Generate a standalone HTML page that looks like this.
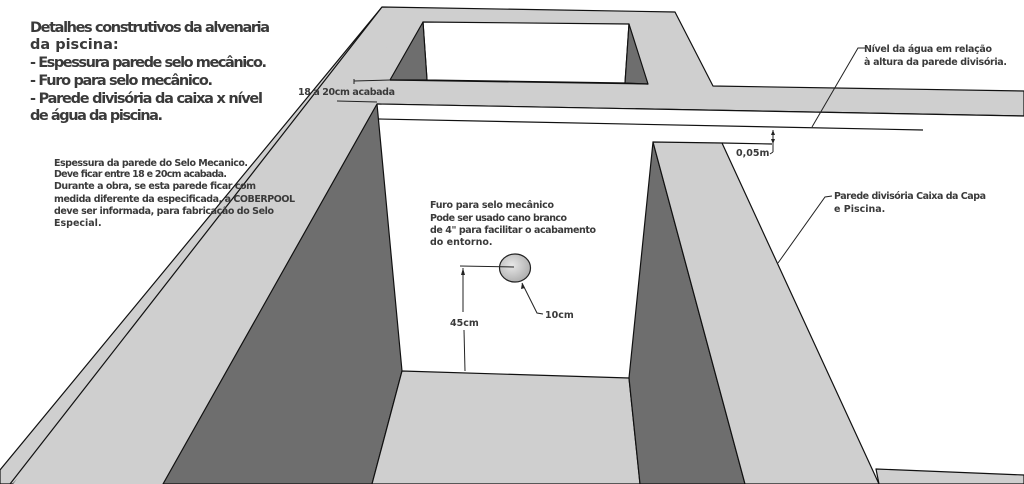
<!DOCTYPE html>
<html><head><meta charset="utf-8"><style>
html,body{margin:0;padding:0;background:#fff;}
svg{display:block;}
text{font-family:"DejaVu Sans","Liberation Sans",sans-serif;font-weight:bold;fill:#3a3a3a;}
</style></head><body>
<svg width="1024" height="484" viewBox="0 0 1024 484" xmlns="http://www.w3.org/2000/svg">
<defs>
<radialGradient id="g" cx="0.4" cy="0.4" r="0.7"><stop offset="0" stop-color="#e8e8e8"/><stop offset="1" stop-color="#a8a8a8"/></radialGradient>
</defs>
<g stroke="#111" stroke-width="1.2" stroke-linejoin="round">
<!-- top frame light -->
<polygon points="382,7 675,12 713,86 1024,91 1024,116 377,104 13,484 0,484 0,470" fill="#cfcfcf"/>
<polygon points="382,7 13,484 163,484 377,104 390,80" fill="#cfcfcf" stroke="none"/>
<line x1="382" y1="7" x2="10" y2="484"/>
<!-- hole -->
<polygon points="423,22 629,24 625,83 427,80" fill="#fff"/>
<polygon points="423,22 427,80 390,80" fill="#6e6e6e"/>
<polygon points="629,24 648,84 625,83" fill="#6e6e6e"/>
<line x1="390" y1="80" x2="648" y2="84"/>
<!-- far wall white -->
<polygon points="377,104 1024,116 1024,484 402,371" fill="#fff" stroke="none"/>
<line x1="377" y1="104" x2="1024" y2="116"/>
<line x1="378" y1="119" x2="923" y2="130"/>
<!-- left dark face -->
<polygon points="377,104 402,371 372,484 163,484" fill="#6e6e6e"/>
<!-- floor -->
<polygon points="402,371 629,378 640,484 372,484" fill="#cfcfcf"/>
<!-- right floor -->
<polygon points="876,469 1024,475 1024,484 879,484" fill="#cfcfcf"/>
<!-- divider -->
<polygon points="653,142 629,378 640,484 745,484" fill="#6e6e6e"/>
<polygon points="653,142 722,143 879,484 745,484" fill="#cfcfcf"/>
<line x1="722" y1="143" x2="772" y2="144"/>
</g>
<!-- hole circle -->
<ellipse cx="515" cy="268" rx="15.5" ry="14" fill="url(#g)" stroke="#222" stroke-width="1.2"/>
<g stroke="#222" stroke-width="1" fill="none">
<line x1="460" y1="266" x2="514" y2="267"/>
<line x1="463" y1="268" x2="463" y2="312"/>
<line x1="464" y1="330" x2="465" y2="371"/>
<polyline points="522,283 537,313 543,314"/>
<line x1="354" y1="81" x2="390" y2="80"/>
<line x1="354" y1="79" x2="354" y2="84"/>
<line x1="337" y1="101" x2="377" y2="102"/>
<line x1="773" y1="130" x2="773" y2="152"/>
<polyline points="773,152 770,154"/>
<polyline points="866,48 858,48 812,127"/>
<polyline points="832,196 825,197 778,263"/>
</g>
<g fill="#222">
<polygon points="463,268 461,275 465,275"/>
<polygon points="773,130 771,135 775,135"/>
<polygon points="773,144 771,139 775,139"/>
<polygon points="522,283 521,289 525,288"/>
</g>
<g font-size="14.5" style="fill:#404040">
<text x="30" y="32" textLength="240">Detalhes construtivos da alvenaria</text>
<text x="30" y="49">da piscina:</text>
<text x="30" y="67" textLength="237">- Espessura parede selo mecânico.</text>
<text x="30" y="85" textLength="183">- Furo para selo mecânico.</text>
<text x="30" y="103" textLength="233">- Parede divisória da caixa x nível</text>
<text x="30" y="120" textLength="133">de água da piscina.</text>
</g>
<g font-size="9.5">
<text x="54" y="166" textLength="194">Espessura da parede do Selo Mecanico.</text>
<text x="54" y="177" textLength="173">Deve ficar entre 18 e 20cm acabada.</text>
<text x="54" y="189" textLength="202">Durante a obra, se esta parede ficar com</text>
<text x="54" y="202" textLength="241">medida diferente da especificada, a COBERPOOL</text>
<text x="54" y="214" textLength="220">deve ser informada, para fabricação do Selo</text>
<text x="54" y="226">Especial.</text>
<text x="298" y="95" textLength="97">18 a 20cm acabada</text>
<text x="430" y="208" textLength="124">Furo para selo mecânico</text>
<text x="430" y="221" textLength="137">Pode ser usado cano branco</text>
<text x="430" y="233" textLength="166">de 4" para facilitar o acabamento</text>
<text x="430" y="245">do entorno.</text>
<text x="545" y="318">10cm</text>
<text x="450" y="326">45cm</text>
<text x="736" y="156">0,05m</text>
<text x="864" y="52" textLength="128">Nível da água em relação</text>
<text x="864" y="65" textLength="143">à altura da parede divisória.</text>
<text x="834" y="199" textLength="152">Parede divisória Caixa da Capa</text>
<text x="834" y="212">e Piscina.</text>
</g>
</svg>
</body></html>
